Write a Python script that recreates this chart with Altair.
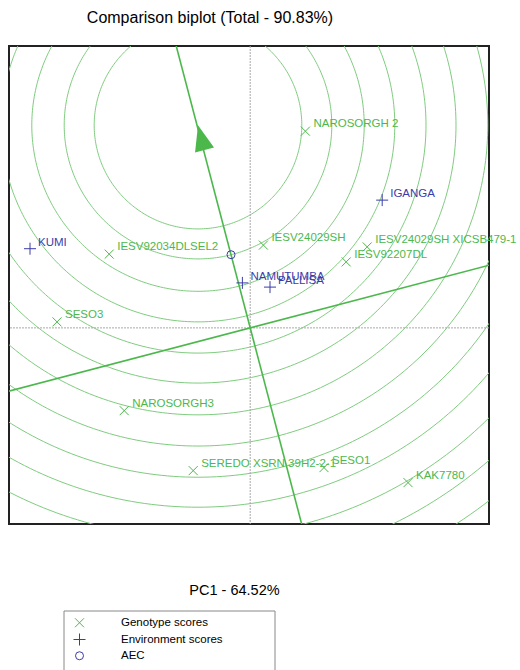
import numpy as np
import pandas as pd
import altair as alt

# ---------------- data ----------------
geno_names = ["NAROSORGH 2", "IESV24029SH", "IESV24029SH XICSB479-1", "IESV92207DL",
              "IESV92034DLSEL2", "SESO3", "NAROSORGH3", "SEREDO XSRN 39H2-2-1",
              "SESO1", "KAK7780"]
geno_pc1 = [0.92, 0.22, 1.95, 1.60, -2.35, -3.22, -2.10, -0.95, 1.23, 2.63]
geno_pc2 = [3.28, 1.38, 1.35, 1.10, 1.23, 0.10, -1.38, -2.38, -2.33, -2.58]

env_names = ["KUMI", "IGANGA", "NAMUTUMBA", "PALLISA"]
env_pc1 = [-3.67, 2.20, -0.13, 0.33]
env_pc2 = [1.32, 2.13, 0.75, 0.68]

aec_pc1 = [-0.32]
aec_pc2 = [1.22]

ideal_pc1 = -0.87
ideal_pc2 = 3.38

circle_radii = [1.73, 2.23, 2.77, 3.28, 3.80, 4.30, 4.83, 5.35, 5.87, 6.37,
                6.88, 7.40, 7.92, 8.43]

x_domain = [-4.02, 3.98]
y_domain = [-3.27, 4.70]

types = ["Genotype scores", "Environment scores", "AEC"]
GREEN = "#4cb84c"
LIGHT = "#7fcc7f"
BLUE = "#3c3ca8"
FONT = "Liberation Sans"

# ---------------- tables ----------------
pts = pd.concat([
    pd.DataFrame({"name": geno_names, "pc1": geno_pc1, "pc2": geno_pc2, "type": types[0]}),
    pd.DataFrame({"name": env_names, "pc1": env_pc1, "pc2": env_pc2, "type": types[1]}),
    pd.DataFrame({"name": ["AEC"], "pc1": aec_pc1, "pc2": aec_pc2, "type": types[2]}),
], ignore_index=True)

theta = np.linspace(0, 2 * np.pi, 361)
circ_rows = []
for r in circle_radii:
    for i, t in enumerate(theta):
        circ_rows.append({"r": r, "i": i,
                          "pc1": ideal_pc1 + r * np.cos(t),
                          "pc2": ideal_pc2 + r * np.sin(t)})
circ = pd.DataFrame(circ_rows)

ax, ay = aec_pc1[0], aec_pc2[0]
norm = np.hypot(ax, ay)
ux, uy = ax / norm, ay / norm
T = 20
aec_line = pd.DataFrame({"pc1": [-T * ux, T * ux], "pc2": [-T * uy, T * uy], "o": [0, 1]})
perp_line = pd.DataFrame({"pc1": [-T * uy, T * uy], "pc2": [T * ux, -T * ux], "o": [0, 1]})
arrow_angle = float(np.degrees(np.arctan2(ux, uy)) % 360)
arrow = pd.DataFrame({"pc1": [ideal_pc1], "pc2": [ideal_pc2]})
origin = pd.DataFrame({"pc1": [0.0], "pc2": [0.0]})
one = pd.DataFrame({"a": [0]})

xscale = alt.Scale(domain=x_domain, nice=False, zero=False)
yscale = alt.Scale(domain=y_domain, nice=False, zero=False)


def X():
    return alt.X("pc1:Q", scale=xscale,
                 axis=alt.Axis(title="PC1 - 64.52%", labels=False, ticks=False, domain=False,
                               grid=False, titleFontSize=14.5, titleFontWeight="normal",
                               titleFont=FONT, titleColor="#000", titleX=225, titleY=66,
                               titleBaseline="middle", titleAlign="center"))


def Y():
    return alt.Y("pc2:Q", scale=yscale, axis=None)


circles = alt.Chart(circ).mark_line(color=LIGHT, strokeWidth=1, clip=True).encode(
    x=X(), y=Y(), detail="r:N", order="i:Q")

vrule = alt.Chart(origin).mark_rule(color="#a8a8a8", strokeDash=[2, 1], strokeWidth=1).encode(
    x=X())
hrule = alt.Chart(origin).mark_rule(color="#a8a8a8", strokeDash=[2, 1], strokeWidth=1).encode(
    y=Y())

aec = alt.Chart(aec_line).mark_line(color=GREEN, strokeWidth=1.6, clip=True).encode(
    x=X(), y=Y(), order="o:Q")
perp = alt.Chart(perp_line).mark_line(color=GREEN, strokeWidth=1.6, clip=True).encode(
    x=X(), y=Y(), order="o:Q")
head = alt.Chart(arrow).mark_point(
    shape="M0,0L-0.8,2.1L0.8,2.1Z", filled=True, color=GREEN, opacity=1,
    size=600, angle=arrow_angle, strokeWidth=0).encode(x=X(), y=Y())

points = alt.Chart(pts).mark_point(filled=False, strokeWidth=1, opacity=1).encode(
    x=X(), y=Y(),
    color=alt.Color("type:N", scale=alt.Scale(domain=types, range=[GREEN, BLUE, BLUE]),
                    legend=alt.Legend(title=None, orient="none", legendX=64, legendY=571,
                                      padding=0, labelOffset=35, rowPadding=1,
                                      labelFont=FONT, labelFontSize=11.5, labelColor="#000",
                                      symbolStrokeWidth=1)),
    shape=alt.Shape("type:N", scale=alt.Scale(
        domain=types, range=["M-1,-1L1,1M-1,1L1,-1", "M-1,0L1,0M0,-1L0,1", "circle"])),
    size=alt.Size("type:N", scale=alt.Scale(type="ordinal", domain=types, range=[81, 144, 64])),
)

geno_text = alt.Chart(pts[pts["type"] == types[0]]).mark_text(
    align="left", baseline="middle", dx=8, dy=-7, font=FONT, fontSize=11.5, color=GREEN
).encode(x=X(), y=Y(), text="name:N")
env_text = alt.Chart(pts[pts["type"] == types[1]]).mark_text(
    align="left", baseline="middle", dx=8, dy=-6, font=FONT, fontSize=11.5, color=BLUE
).encode(x=X(), y=Y(), text="name:N")

legend_box = alt.Chart(one).mark_rect(fill="white", stroke="#888", strokeWidth=1).encode(
    x=alt.value(55), x2=alt.value(266), y=alt.value(565), y2=alt.value(640))

chart = alt.layer(
    circles, vrule, hrule, aec, perp, head, legend_box, points, geno_text, env_text
).properties(
    width=480, height=478,
    title=alt.TitleParams("Comparison biplot (Total - 90.83%)", font=FONT, fontSize=16,
                          fontWeight="normal", color="#000", anchor="middle", dx=-39, dy=-16),
    autosize=alt.AutoSizeParams(type="none"),
    padding={"left": 9, "top": 46, "right": 31, "bottom": 146},
).configure_view(stroke="#222", strokeWidth=2)

chart.save("out.html", embed_options={"renderer": "svg", "actions": False})
